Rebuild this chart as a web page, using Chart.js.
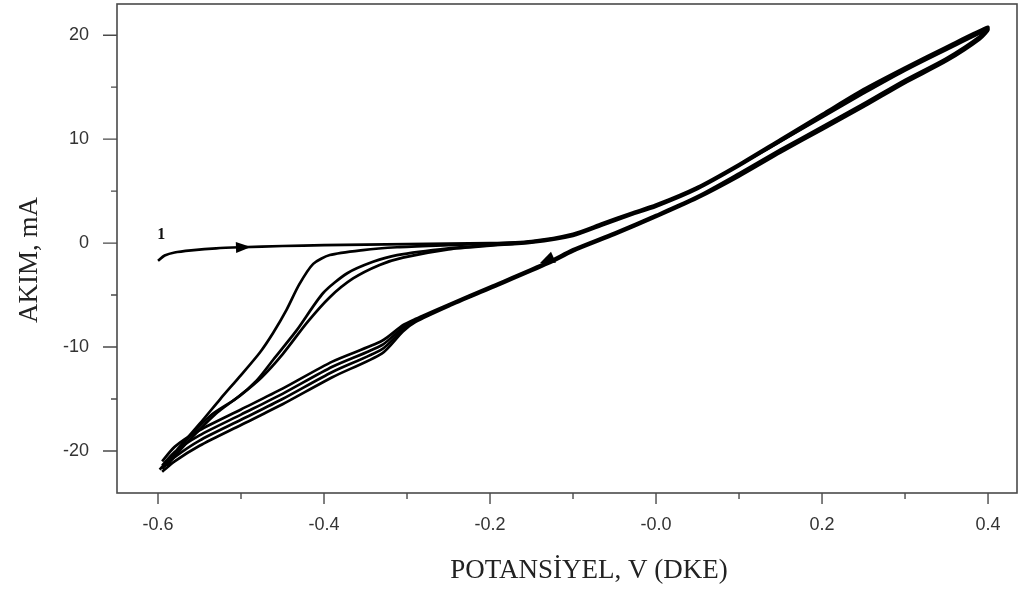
<!DOCTYPE html>
<html>
<head>
<meta charset="utf-8">
<script src="https://cdn.jsdelivr.net/npm/chart.js@4.4.1/dist/chart.umd.min.js"></script>
<style>
html,body{margin:0;padding:0;background:#fff;}
#c{display:block;}
</style>
</head>
<body>
<canvas id="c" width="1020" height="592"></canvas>
<script>
// ---------- tick labels ----------
const xTickValues = [-0.6, -0.4, -0.2, 0.0, 0.2, 0.4];
const xTickLabels = ['-0.6', '-0.4', '-0.2', '-0.0', '0.2', '0.4'];
const xMinorTicks = [-0.5, -0.3, -0.1, 0.1, 0.3];
const yTickValues = [-20, -10, 0, 10, 20];
const yTickLabels = ['-20', '-10', '0', '10', '20'];
const yMinorTicks = [-15, -5, 5, 15];

// ---------- cycle 1 forward (low potential part) ----------
const fwd1V = [-0.600, -0.592, -0.580, -0.560, -0.530, -0.500, -0.450, -0.400, -0.300, -0.200, -0.150];
const fwd1I = [-1.7, -1.2, -0.9, -0.7, -0.5, -0.4, -0.28, -0.2, -0.1, 0.0, 0.2];

// ---------- cycles 2-4 forward (reduction wave part) ----------
const fwd2V = [-0.598, -0.575, -0.550, -0.525, -0.500, -0.477, -0.461, -0.445, -0.430, -0.413, -0.393, -0.353, -0.312, -0.250, -0.200, -0.150];
const fwd2I = [-21.8, -19.7, -17.4, -15.0, -12.7, -10.5, -8.6, -6.4, -4.0, -2.0, -1.15, -0.67, -0.4, -0.2, -0.05, 0.15];
const fwd3V = [-0.595, -0.570, -0.537, -0.505, -0.481, -0.461, -0.433, -0.401, -0.372, -0.341, -0.312, -0.250, -0.200, -0.150];
const fwd3I = [-21.6, -19.3, -16.6, -14.9, -13.2, -11.2, -8.4, -4.8, -2.9, -1.8, -1.15, -0.5, -0.2, 0.1];
const fwd4V = [-0.590, -0.565, -0.530, -0.500, -0.475, -0.450, -0.420, -0.393, -0.365, -0.333, -0.305, -0.250, -0.200, -0.150];
const fwd4I = [-21.4, -19.2, -16.4, -14.6, -12.9, -10.7, -7.6, -5.2, -3.4, -2.1, -1.4, -0.6, -0.25, 0.05];

// ---------- forward anodic band (all cycles) ----------
const bandV  = [-0.100, -0.065, -0.030, 0.000, 0.050, 0.100, 0.150, 0.200, 0.250, 0.300, 0.350, 0.400];
const band1I = [0.9, 1.9, 2.9, 3.7, 5.4, 7.6, 10.0, 12.4, 14.8, 16.9, 18.9, 20.8];
const band2I = [0.8, 1.8, 2.8, 3.6, 5.3, 7.5, 9.9, 12.3, 14.6, 16.8, 18.8, 20.7];
const band3I = [0.8, 1.8, 2.8, 3.6, 5.3, 7.5, 9.8, 12.2, 14.5, 16.7, 18.7, 20.6];
const band4I = [0.7, 1.7, 2.7, 3.5, 5.2, 7.4, 9.8, 12.1, 14.4, 16.6, 18.6, 20.5];

// ---------- reverse scans ----------
const retV  = [0.390, 0.350, 0.300, 0.250, 0.200, 0.150, 0.100, 0.050, 0.000, -0.050, -0.100, -0.130, -0.200, -0.250, -0.290, -0.305, -0.330, -0.390, -0.450, -0.500, -0.550, -0.580, -0.595];
const ret1I = [19.9, 17.8, 15.7, 13.4, 11.2, 9.0, 6.7, 4.5, 2.7, 1.0, -0.6, -1.8, -4.2, -5.9, -7.3, -7.9, -9.4, -11.4, -14.0, -16.0, -18.0, -19.6, -21.0];
const ret2I = [19.8, 17.7, 15.6, 13.3, 11.1, 8.9, 6.6, 4.4, 2.6, 0.9, -0.7, -1.9, -4.3, -6.0, -7.4, -8.1, -9.8, -11.9, -14.5, -16.5, -18.5, -20.1, -21.4];
const ret3I = [19.7, 17.6, 15.5, 13.2, 11.0, 8.8, 6.5, 4.4, 2.6, 0.9, -0.7, -1.9, -4.3, -6.0, -7.5, -8.3, -10.2, -12.4, -15.0, -17.0, -19.0, -20.6, -21.7];
const ret4I = [19.6, 17.5, 15.4, 13.1, 10.9, 8.7, 6.4, 4.3, 2.5, 0.8, -0.8, -2.0, -4.4, -6.1, -7.6, -8.5, -10.6, -12.9, -15.5, -17.5, -19.5, -21.0, -22.0];

function pts(vs, is) { return vs.map((v, k) => ({x: v, y: is[k]})); }

const cycles = [
  pts(fwd1V, fwd1I).concat(pts(bandV, band1I), pts(retV, ret1I)),
  pts(fwd2V, fwd2I).concat(pts(bandV, band2I), pts(retV, ret2I)),
  pts(fwd3V, fwd3I).concat(pts(bandV, band3I), pts(retV, ret3I)),
  pts(fwd4V, fwd4I).concat(pts(bandV, band4I), pts(retV, ret4I))
];

const decor = {
  id: 'decor',
  afterDraw(chart) {
    const {ctx, chartArea: a, scales: {x, y}} = chart;
    ctx.save();
    // frame
    ctx.strokeStyle = '#4a4a4a';
    ctx.lineWidth = 1.6;
    ctx.strokeRect(a.left, a.top, a.right - a.left, a.bottom - a.top);
    // ticks
    ctx.lineWidth = 1.4;
    ctx.beginPath();
    xTickValues.forEach(v => { const p = x.getPixelForValue(v); ctx.moveTo(p, a.bottom); ctx.lineTo(p, a.bottom + 11); });
    xMinorTicks.forEach(v => { const p = x.getPixelForValue(v); ctx.moveTo(p, a.bottom); ctx.lineTo(p, a.bottom + 6); });
    yTickValues.forEach(v => { const p = y.getPixelForValue(v); ctx.moveTo(a.left, p); ctx.lineTo(a.left - 14, p); });
    yMinorTicks.forEach(v => { const p = y.getPixelForValue(v); ctx.moveTo(a.left, p); ctx.lineTo(a.left - 6, p); });
    ctx.stroke();

    // arrows
    function arrow(tx, ty, fx1, fy1, fx2, fy2, len, hw) {
      const px = x.getPixelForValue(tx), py = y.getPixelForValue(ty);
      const dx = x.getPixelForValue(fx2) - x.getPixelForValue(fx1);
      const dy = y.getPixelForValue(fy2) - y.getPixelForValue(fy1);
      const d = Math.hypot(dx, dy), ux = dx / d, uy = dy / d;
      const bx = px - ux * len, by = py - uy * len;
      ctx.beginPath();
      ctx.moveTo(px, py);
      ctx.lineTo(bx - uy * hw, by + ux * hw);
      ctx.lineTo(bx + uy * hw, by - ux * hw);
      ctx.closePath();
      ctx.fillStyle = '#000';
      ctx.fill();
    }
    arrow(-0.488, -0.37, -0.53, -0.5, -0.45, -0.28, 15, 5.5);
    arrow(-0.140, -1.95, -0.10, -0.6, -0.20, -4.2, 15, 6);

    // curve label "1"
    ctx.fillStyle = '#111';
    ctx.font = 'bold 16px "Liberation Serif"';
    ctx.textAlign = 'center';
    ctx.textBaseline = 'middle';
    ctx.fillText('1', x.getPixelForValue(-0.596), y.getPixelForValue(0.75));

    // axis titles
    ctx.fillStyle = '#222';
    ctx.font = '27px "Liberation Serif"';
    ctx.textAlign = 'center';
    ctx.textBaseline = 'alphabetic';
    ctx.fillText('POTANSİYEL, V (DKE)', 589, 578);
    ctx.translate(37, 260);
    ctx.rotate(-Math.PI / 2);
    ctx.fillText('AKIM, mA', 0, 0);
    ctx.restore();
  }
};

new Chart(document.getElementById('c'), {
  type: 'scatter',
  data: {
    datasets: cycles.map((d, k) => ({
      label: 'Cycle ' + (k + 1),
      data: d,
      showLine: true,
      borderColor: '#000',
      borderWidth: 2.7,
      pointRadius: 0,
      tension: 0.25,
      fill: false
    }))
  },
  options: {
    responsive: false,
    animation: false,
    devicePixelRatio: 1,
    events: [],
    layout: {padding: {top: 4, right: 3, left: 0, bottom: 0}},
    plugins: {legend: {display: false}, tooltip: {enabled: false}},
    scales: {
      x: {
        type: 'linear',
        min: -0.6494,
        max: 0.4349,
        grid: {display: false},
        border: {display: false},
        ticks: {
          stepSize: 0.2,
          includeBounds: false,
          padding: 13,
          color: '#333',
          font: {family: '"Liberation Sans"', size: 18},
          maxRotation: 0,
          autoSkip: false,
          callback: (v) => {
            const k = xTickValues.findIndex(t => Math.abs(t - v) < 1e-6);
            return k >= 0 ? xTickLabels[k] : '';
          }
        },
        afterFit: (s) => { s.height = 99; s.paddingLeft = 0; s.paddingRight = 0; }
      },
      y: {
        type: 'linear',
        min: -24.04,
        max: 23.0,
        grid: {display: false},
        border: {display: false},
        ticks: {
          stepSize: 10,
          includeBounds: false,
          padding: 20,
          color: '#333',
          font: {family: '"Liberation Sans"', size: 18},
          autoSkip: false,
          callback: (v) => {
            const k = yTickValues.findIndex(t => Math.abs(t - v) < 1e-6);
            return k >= 0 ? yTickLabels[k] : '';
          }
        },
        afterFit: (s) => { s.width = 117; s.paddingTop = 0; s.paddingBottom = 0; }
      }
    }
  },
  plugins: [decor]
});
</script>
</body>
</html>
